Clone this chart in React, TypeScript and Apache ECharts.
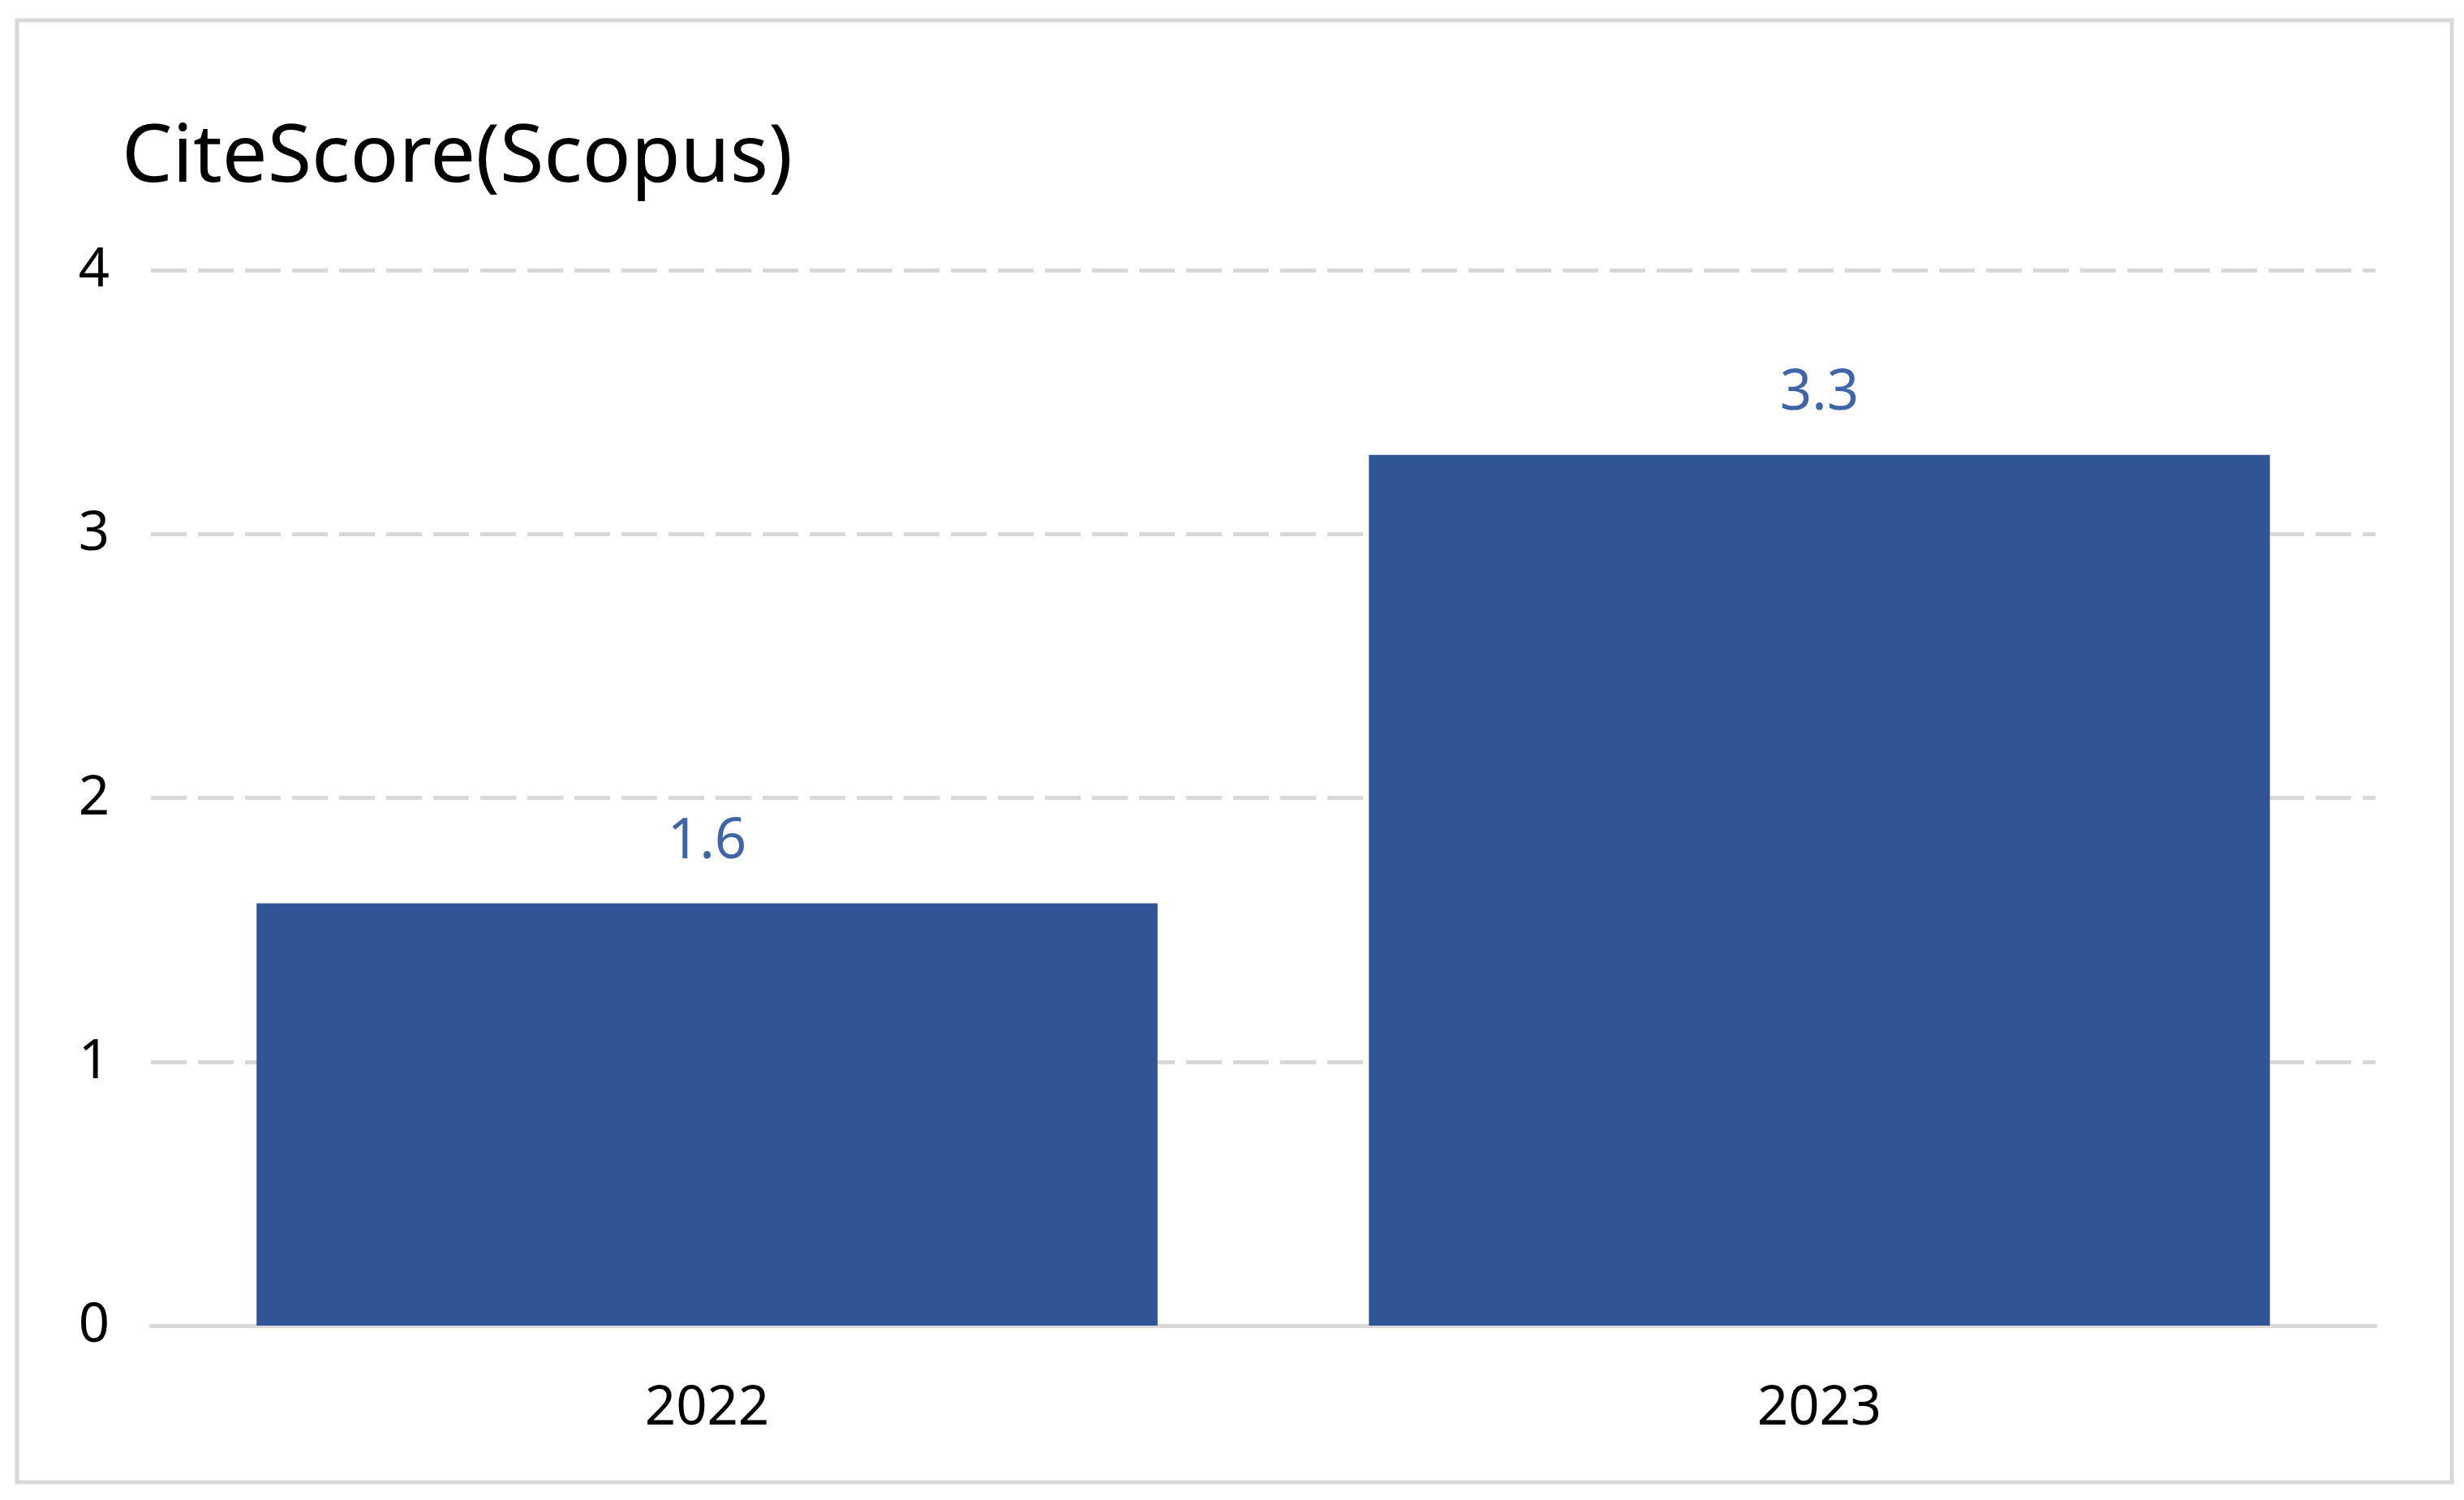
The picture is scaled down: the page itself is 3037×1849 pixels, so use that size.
import React, { useEffect, useRef } from "react";
import * as echarts from "echarts";

const categories = ["2022", "2023"];
const citeScores = [1.6, 3.3];
const yTicks = [0, 1, 2, 3, 4];
const titleText = "CiteScore(Scopus)";

export default function App() {
  const ref = useRef<HTMLDivElement>(null);
  useEffect(() => {
    if (!ref.current) return;
    const chart = echarts.init(ref.current, undefined, { renderer: "svg" });
    const font = "'Noto Sans', sans-serif";
    chart.setOption({
      animation: false,
      backgroundColor: "#ffffff",
      textStyle: { fontFamily: font },
      title: {
        text: titleText,
        left: 145,
        top: 125,
        textStyle: { fontFamily: font, fontSize: 99, fontWeight: "normal", color: "#000000", lineHeight: 110 },
      },
      graphic: [
        {
          type: "rect",
          shape: { x: 21, y: 25, width: 3001, height: 1802 },
          style: { fill: "none", stroke: "#d9d9d9", lineWidth: 5 },
          silent: true,
        },
      ],
      grid: { left: 186, right: 109, top: 333, bottom: 215, containLabel: false },
      xAxis: {
        type: "category",
        data: categories,
        axisLine: { show: true, lineStyle: { color: "#d9d9d9", width: 5 } },
        axisTick: { show: false },
        axisLabel: { fontFamily: font, fontSize: 67, color: "#000000", margin: 62, lineHeight: 67 },
      },
      yAxis: {
        type: "value",
        min: yTicks[0],
        max: yTicks[yTicks.length - 1],
        interval: 1,
        axisLine: { show: false },
        axisTick: { show: false },
        axisLabel: {
          fontFamily: font,
          fontSize: 67,
          color: "#000000",
          margin: 70,
          align: "center",
          verticalAlign: "bottom",
          lineHeight: 12,
        },
        splitLine: { show: true, lineStyle: { color: "#d9d9d9", width: 5, type: [44, 14] } },
      },
      series: [
        {
          type: "bar",
          data: citeScores,
          barCategoryGap: "19%",
          itemStyle: { color: "#2f5597" },
          label: {
            show: true,
            position: "top",
            distance: 48,
            fontFamily: font,
            fontSize: 69,
            color: "#3f65a8",
            lineHeight: 69,
          },
        },
      ],
    });
    return () => chart.dispose();
  }, []);
  return (
    <div
      ref={ref}
      style={{ position: "fixed", left: 0, top: 0, width: 3037, height: 1849 }}
    />
  );
}
